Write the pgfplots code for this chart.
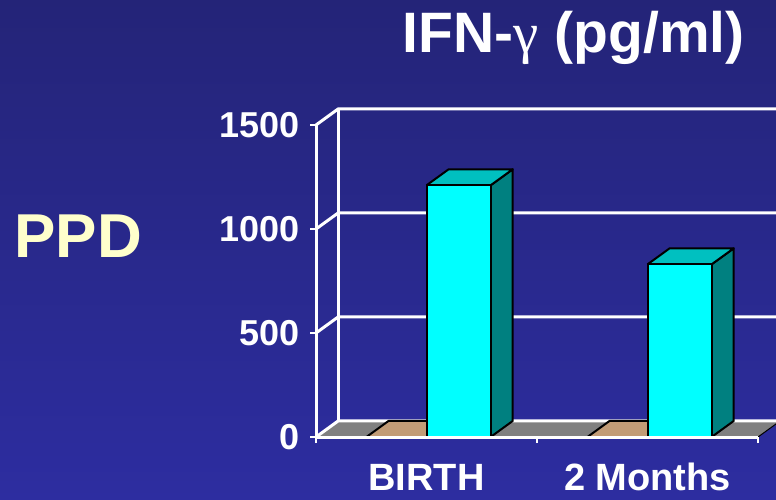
\documentclass[border=0pt]{standalone}
\usepackage{pgfplots}
\pgfplotsset{compat=1.18}
\usepackage{fontspec}
\setmainfont{Liberation Sans}
\newfontfamily\greekfont{Liberation Serif}

\definecolor{bgtop}{RGB}{36,36,120}
\definecolor{bgbot}{RGB}{45,45,160}
\definecolor{ppdyellow}{RGB}{255,255,204}
\definecolor{barfront}{RGB}{0,255,255}
\definecolor{bartop}{RGB}{0,192,192}
\definecolor{barside}{RGB}{0,128,128}
\definecolor{tanbar}{RGB}{194,156,118}
\definecolor{floorgrey}{RGB}{128,128,128}

% depth of the 3-D look, in axis units
\newcommand\dx{0.1}
\newcommand\dy{77}

% box: left edge, right edge, value, front colour, top colour, side colour
\newcommand\cuboid[6]{%
  \pgfmathsetmacro\xa{#1+\dx}%
  \pgfmathsetmacro\xb{#2+\dx}%
  \pgfmathsetmacro\yt{#3+\dy}%
  \addplot[fill=#6, draw=black, line width=2pt, line join=round]
    coordinates {(#2,0) (\xb,\dy) (\xb,\yt) (#2,#3) (#2,0)};
  \addplot[fill=#5, draw=black, line width=2pt, line join=round]
    coordinates {(#1,#3) (#2,#3) (\xb,\yt) (\xa,\yt) (#1,#3)};
  \addplot[fill=#4, draw=black, line width=2pt, line join=round]
    coordinates {(#1,0) (#2,0) (#2,#3) (#1,#3) (#1,0)};
}

\begin{document}
\begin{tikzpicture}
  \clip (0,0) rectangle (776pt,499pt);
  \shade[top color=bgtop, bottom color=bgbot] (0,0) rectangle (776pt,499pt);

  \node[anchor=base east, white, font=\fontsize{57}{60}\selectfont\bfseries]
    at (748pt,446pt) {IFN-{\greekfont\mdseries γ} (pg/ml)};
  \node[anchor=base west, text=ppdyellow, font=\fontsize{62}{64}\selectfont\bfseries]
    at (11pt,242pt) {PPD};

  \begin{axis}[
    at={(316pt,62pt)}, anchor=south west,
    scale only axis, width=442pt, height=312pt,
    xmin=0, xmax=2, ymin=0, ymax=1500,
    clip=false, axis on top,
    axis x line*=bottom, axis y line*=left,
    axis line style={white, line width=3pt},
    tick style={white, line width=2.5pt},
    tick align=outside, major tick length=6pt,
    xtick={0,1,2}, xticklabels={},
    extra x ticks={0.5,1.5},
    extra x tick labels={BIRTH,2 Months},
    extra x tick style={major tick length=0pt,
      xticklabel style={anchor=base, inner sep=0pt, yshift=-53pt, white,
        font=\fontsize{38}{40}\selectfont\bfseries}},
    ytick={0,500,1000,1500},
    scaled y ticks=false,
    /pgf/number format/assume math mode=true,
    /pgf/number format/1000 sep={},
    yticklabel style={anchor=east, inner sep=0pt, xshift=-10pt, white,
      font=\fontsize{36}{40}\selectfont\bfseries},
  ]
    % floor
    \addplot[fill=floorgrey, draw=black, line width=1pt]
      coordinates {(0,0) (2,0) (2.1,77) (0.1,77) (0,0)};
    % back wall and left wall grid
    \foreach \v/\w in {0/77, 500/577, 1000/1077, 1500/1577} {
      \edef\temp{\noexpand\draw[white, line width=3pt]
        (axis cs:0,\v) -- (axis cs:0.1,\w) -- (axis cs:2.3,\w);}
      \temp
    }
    \draw[white, line width=3pt] (axis cs:0.1,77) -- (axis cs:0.1,1577);

    % tan series (zero)
    \cuboid{0.228}{0.5}{0}{tanbar}{tanbar}{tanbar}
    \cuboid{1.228}{1.5}{0}{tanbar}{tanbar}{tanbar}
    % cyan series
    \cuboid{0.5}{0.79}{1210}{barfront}{bartop}{barside}
    \cuboid{1.5}{1.79}{830}{barfront}{bartop}{barside}
  \end{axis}
\end{tikzpicture}
\end{document}
